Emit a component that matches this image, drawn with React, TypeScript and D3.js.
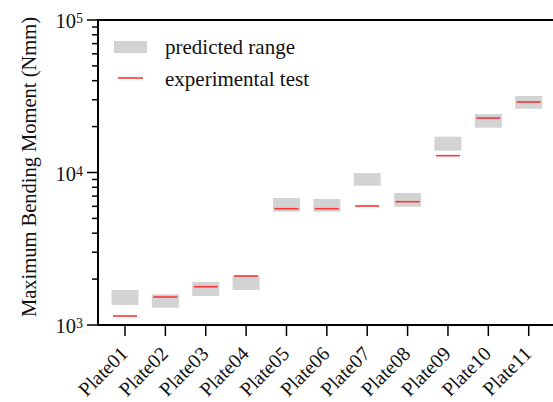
import React from 'react'
import * as d3 from 'd3'

// chart data
const plates = ['Plate01', 'Plate02', 'Plate03', 'Plate04', 'Plate05', 'Plate06', 'Plate07', 'Plate08', 'Plate09', 'Plate10', 'Plate11']
const predictedLow = [1353, 1298, 1549, 1696, 5533, 5533, 8193, 5968, 13900, 19670, 26200]
const predictedHigh = [1696, 1589, 1914, 2105, 6806, 6702, 9925, 7337, 17170, 24190, 31750]
const experimental = [1146, 1526, 1783, 2096, 5789, 5789, 6030, 6435, 12890, 22760, 29000]
const majorTicks = [1e3, 1e4, 1e5]

const W = 553
const H = 402
const left = 98
const right = 553
const top = 20
const bottom = 325
const font = '"Liberation Serif", "Times New Roman", serif'

const App = () => {
  const x = d3.scalePoint<string>().domain(plates).range([125, 528.7])
  const y = d3.scaleLog().domain([1e3, 1e5]).range([bottom, top])

  // minor ticks 2..9 for each decade
  const minor: number[] = []
  for (let d = 1e3; d < 1e5; d *= 10) {
    for (let k = 2; k <= 9; k++) minor.push(d * k)
  }

  const boxW = 27
  const lineW = 24

  return (
    <svg width={W} height={H} style={{ position: 'absolute', left: 0, top: 0, background: '#fff' }} fontFamily={font}>
      {/* predicted ranges */}
      {plates.map((p, i) => (
        <rect
          key={'r' + p}
          x={(x(p) ?? 0) - boxW / 2}
          y={y(predictedHigh[i])}
          width={boxW}
          height={y(predictedLow[i]) - y(predictedHigh[i])}
          fill="#d3d3d3"
        />
      ))}
      {/* experimental values */}
      {plates.map((p, i) => (
        <line
          key={'e' + p}
          x1={(x(p) ?? 0) - lineW / 2}
          x2={(x(p) ?? 0) + lineW / 2}
          y1={y(experimental[i])}
          y2={y(experimental[i])}
          stroke="#ff3333"
          strokeWidth={1.6}
        />
      ))}

      {/* frame */}
      <line x1={left} x2={right} y1={top} y2={top} stroke="#000" strokeWidth={2} />
      <line x1={left} x2={right} y1={bottom} y2={bottom} stroke="#000" strokeWidth={2} />
      <line x1={left} x2={left} y1={top - 1} y2={bottom + 1} stroke="#000" strokeWidth={2} />

      {/* y ticks */}
      {minor.map((v) => (
        <line key={'m' + v} x1={left - 6} x2={left} y1={y(v)} y2={y(v)} stroke="#000" strokeWidth={1.5} />
      ))}
      {majorTicks.map((v) => (
        <g key={'t' + v}>
          <line x1={left - 11} x2={left} y1={y(v)} y2={y(v)} stroke="#000" strokeWidth={1.5} />
          <text x={left - 15} y={y(v) + 8} textAnchor="end" fontSize={20.5} fill="#111">
            10
            <tspan fontSize={14} dy={-5}>{Math.round(Math.log10(v))}</tspan>
          </text>
        </g>
      ))}

      {/* x ticks */}
      {plates.map((p) => (
        <g key={'x' + p}>
          <line x1={x(p)} x2={x(p)} y1={bottom} y2={bottom + 11} stroke="#000" strokeWidth={1.5} />
          <text
            transform={`translate(${(x(p) ?? 0) + 4},${bottom + 30}) rotate(-45)`}
            textAnchor="end"
            fontSize={20}
            fill="#111"
          >
            {p}
          </text>
        </g>
      ))}

      {/* y label */}
      <text transform={`translate(36,167) rotate(-90)`} textAnchor="middle" fontSize={20.5} fill="#111">
        Maximum Bending Moment (Nmm)
      </text>

      {/* legend */}
      <rect x={114} y={41} width={33} height={12} fill="#d3d3d3" />
      <text x={165} y={54} fontSize={21} fill="#111">predicted range</text>
      <line x1={118} x2={143} y1={78} y2={78} stroke="#ff3333" strokeWidth={1.6} />
      <text x={165} y={86} fontSize={21} fill="#111">experimental test</text>
    </svg>
  )
}

export default App
